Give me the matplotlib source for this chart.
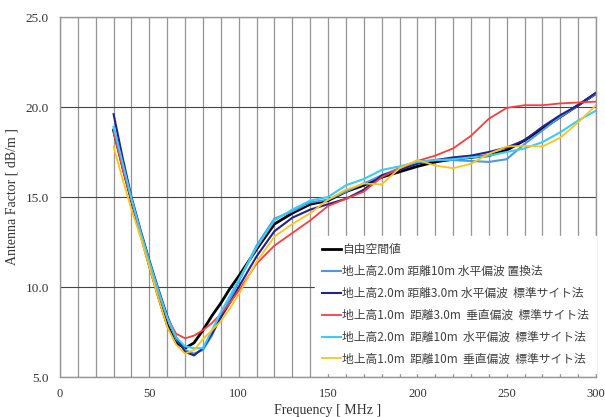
import matplotlib
matplotlib.use('Agg')
import matplotlib.pyplot as plt
from matplotlib.ticker import MultipleLocator, FormatStrFormatter

freq = [30, 35, 40, 45, 50, 55, 60, 65, 70, 75, 80, 85, 90, 95, 100,
        110, 120, 130, 140, 150, 160, 170, 180, 190, 200,
        210, 220, 230, 240, 250, 260, 270, 280, 290, 300]

free_space = [18.7, 16.7, 14.8, 13.0, 11.2, 9.5, 7.9, 6.9, 6.6, 6.9, 7.6, 8.4, 9.1, 9.9, 10.6,
              12.1, 13.5, 14.1, 14.6, 14.8, 15.3, 15.65, 16.1, 16.4, 16.7,
              16.95, 17.1, 17.2, 17.3, 17.6, 18.15, 18.8, 19.45, 20.1, 20.75]
h2_10m_subst = [18.8, 16.9, 14.9, 13.1, 11.4, 9.8, 8.3, 7.1, 6.5, 6.3, 6.5, 7.3, 8.4, 9.3, 10.3,
                12.3, 13.8, 14.2, 14.7, 14.85, 15.3, 15.75, 16.2, 16.6, 16.95,
                17.05, 17.05, 17.0, 16.95, 17.1, 17.95, 18.7, 19.45, 20.1, 20.75]
h2_3m_hor = [19.6, 17.2, 15.0, 13.2, 11.5, 9.9, 8.4, 7.2, 6.4, 6.2, 6.6, 7.4, 8.3, 9.1, 10.0,
             11.7, 13.1, 13.85, 14.3, 14.6, 14.9, 15.4, 16.2, 16.5, 16.85,
             17.05, 17.2, 17.3, 17.5, 17.75, 18.15, 18.9, 19.55, 20.1, 20.8]
h1_3m_ver = [18.6, 16.6, 14.8, 13.0, 11.3, 9.7, 8.3, 7.4, 7.15, 7.3, 7.6, 8.0, 8.5, 9.1, 9.8,
             11.3, 12.3, 13.0, 13.7, 14.5, 14.9, 15.3, 16.1, 16.6, 17.0,
             17.3, 17.7, 18.4, 19.35, 19.95, 20.1, 20.1, 20.2, 20.25, 20.3]
h2_10m_hor = [18.9, 16.9, 14.9, 13.1, 11.4, 9.8, 8.3, 7.2, 6.7, 6.6, 6.6, 7.6, 8.6, 9.5, 10.4,
              12.2, 13.7, 14.3, 14.8, 15.0, 15.65, 16.0, 16.5, 16.7, 16.95,
              17.05, 17.1, 17.2, 17.3, 17.5, 17.7, 18.05, 18.6, 19.25, 19.8]
h1_10m_ver = [17.8, 16.0, 14.3, 12.8, 11.1, 9.4, 7.8, 6.8, 6.3, 6.5, 7.1, 7.6, 8.1, 8.8, 9.6,
              11.4, 12.8, 13.5, 14.1, 14.85, 15.4, 15.75, 15.7, 16.6, 17.05,
              16.75, 16.6, 16.85, 17.4, 17.8, 17.85, 17.8, 18.3, 19.15, 20.1]

labels = ['自由空間値',
          '地上高2.0m 距離10m 水平偏波 置換法',
          '地上高2.0m 距離3.0m 水平偏波  標準サイト法',
          '地上高1.0m  距離3.0m  垂直偏波  標準サイト法',
          '地上高2.0m  距離10m  水平偏波  標準サイト法',
          '地上高1.0m  距離10m  垂直偏波  標準サイト法']
series = [free_space, h2_10m_subst, h2_3m_hor, h1_3m_ver, h2_10m_hor, h1_10m_ver]
colors = ['#000000', '#4b9ade', '#23238f', '#ff3b3b', '#38ccfa', '#ffc21a']
widths = [2.0, 1.5, 1.5, 1.3, 1.5, 1.3]


def main():
    fig = plt.figure(figsize=(6.05, 4.17), dpi=100)
    ax = fig.add_axes([0.0992, 0.0959, 0.8860, 0.8633])

    for vals, lab, col, lw in zip(series, labels, colors, widths):
        ax.plot(freq, vals, color=col, lw=lw, label=lab)

    ax.set_xlim(0, 300)
    ax.set_ylim(5, 25)
    ax.xaxis.set_major_locator(MultipleLocator(50))
    ax.xaxis.set_minor_locator(MultipleLocator(10))
    ax.yaxis.set_major_locator(MultipleLocator(5))
    ax.yaxis.set_major_formatter(FormatStrFormatter('%.1f'))
    ax.xaxis.grid(True, which='both', color='#959595', lw=0.9)
    ax.yaxis.grid(True, which='major', color='#454545', lw=0.8)
    ax.set_axisbelow(True)
    ax.tick_params(which='both', length=0, pad=8, labelsize=9.5, labelcolor='#333333')
    ax.tick_params(axis='x', labelsize=9)
    for lbl in ax.get_xticklabels() + ax.get_yticklabels():
        lbl.set_fontfamily('Liberation Serif')
    for s in ax.spines.values():
        s.set_color('#959595')
        s.set_linewidth(1.0)

    ax.set_xlabel('Frequency [ MHz ]', family='Liberation Serif', fontsize=10,
                  color='#333333', labelpad=3)
    ax.set_ylabel('Antenna Factor [ dB/m ]', family='Liberation Serif', fontsize=10,
                  color='#333333', labelpad=5)

    leg = ax.legend(loc='lower right', bbox_to_anchor=(1.0, 0.012),
                    prop={'family': ['Noto Sans CJK JP', 'DejaVu Sans'], 'size': 8.5},
                    frameon=True, fancybox=False, framealpha=1, facecolor='white',
                    edgecolor='white', handlelength=1.6, handletextpad=0.1,
                    labelspacing=0.75, borderpad=0.6, borderaxespad=0)
    for t in leg.get_texts():
        t.set_color('#404040')

    fig.savefig('out.png', dpi=100)


if __name__ == "__main__":
    main()
